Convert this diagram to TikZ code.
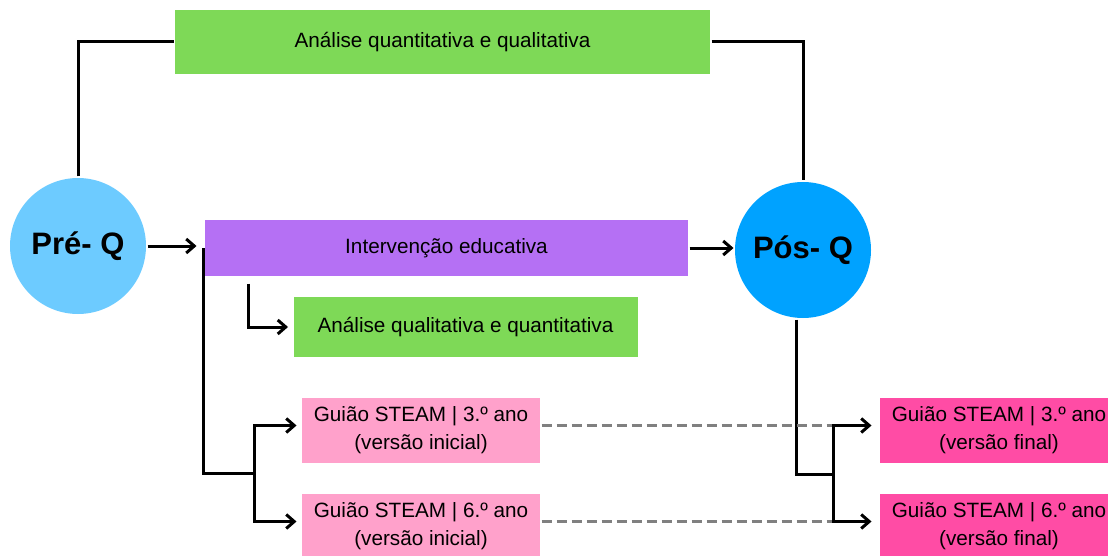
\documentclass[tikz,border=0pt]{standalone}
\usepackage{fontspec}
\setmainfont{Liberation Sans}
\usetikzlibrary{arrows.meta}
\definecolor{boxgreen}{RGB}{126,217,87}
\definecolor{boxpurple}{RGB}{181,112,244}
\definecolor{pinklight}{RGB}{255,161,203}
\definecolor{pinkdark}{RGB}{255,76,165}
\definecolor{preblue}{RGB}{109,203,255}
\definecolor{posblue}{RGB}{0,162,255}

\begin{document}
\begin{tikzpicture}[x=1pt,y=-1pt,->,>={Straight Barb[length=8pt,width=14pt]},line width=3pt]
   \useasboundingbox (0,0) rectangle (1108,556);
   \fontsize{20.7}{28}\selectfont
   \tikzstyle{box}=[rectangle, inner sep=0pt, align=center, minimum height=64pt]
   \tikzstyle{quest}=[circle, inner sep=0pt, minimum size=136pt, font=\fontsize{31}{36}\selectfont\bfseries]
   \tikzstyle{guide}=[box, minimum width=238pt, minimum height=65pt]
   \node[box,fill=boxgreen,minimum width=535pt] (quanti) at (442.5,42) {Análise quantitativa e qualitativa};
   \node[quest,fill=preblue] (pre) at (78,246) {Pré- Q};
   \node[quest,fill=posblue] (pos) at (803,250) {Pós- Q};
   \node[box,fill=boxpurple,minimum width=483pt,minimum height=56pt] (interv) at (446.5,248) {Intervenção educativa};
   \node[box,fill=boxgreen,minimum width=344pt,minimum height=60pt] (quali) at (465.5,327) {Análise qualitativa e quantitativa};
   \foreach \n/\y in {3/430.5,6/526.5} {
       \node[guide,fill=pinklight] (gi\n) at (421,\y) {Guião STEAM | \n.º ano\\(versão inicial)};
       \node[guide,fill=pinkdark] (gf\n) at (999,\y) {Guião STEAM | \n.º ano\\(versão final)};
   }
   \coordinate (lsplit) at (254,473);
   \coordinate (rsplit) at (833,474);
   \draw[-] (pre.north) |- (quanti.west);
   \draw[-] (quanti.east) -| (pos.north);
   \draw[shorten >=7pt] (pre.east) -- (pre.east -| interv.west);
   \draw (interv.east) -- (interv.east -| pos.west);
   \draw[shorten >=4pt] ([shift={(45,6)}]interv.south west) |- (quali.west);
   \draw[-] (interv.west) |- (lsplit);
   \draw[-] ([xshift=-7pt]pos.south) |- (rsplit);
   \foreach \n in {3,6} {
       \draw[-,gray,line width=2.6pt,dash pattern=on 10pt off 5pt] ([yshift=5pt]gi\n.east) -- ([yshift=5pt]gi\n.east -| rsplit);
       \draw[shorten >=4pt] (lsplit) |- ([yshift=5pt]gi\n.west);
       \draw[shorten >=7pt] (rsplit) |- ([yshift=5pt]gf\n.west);
   }
\end{tikzpicture}
\end{document}
